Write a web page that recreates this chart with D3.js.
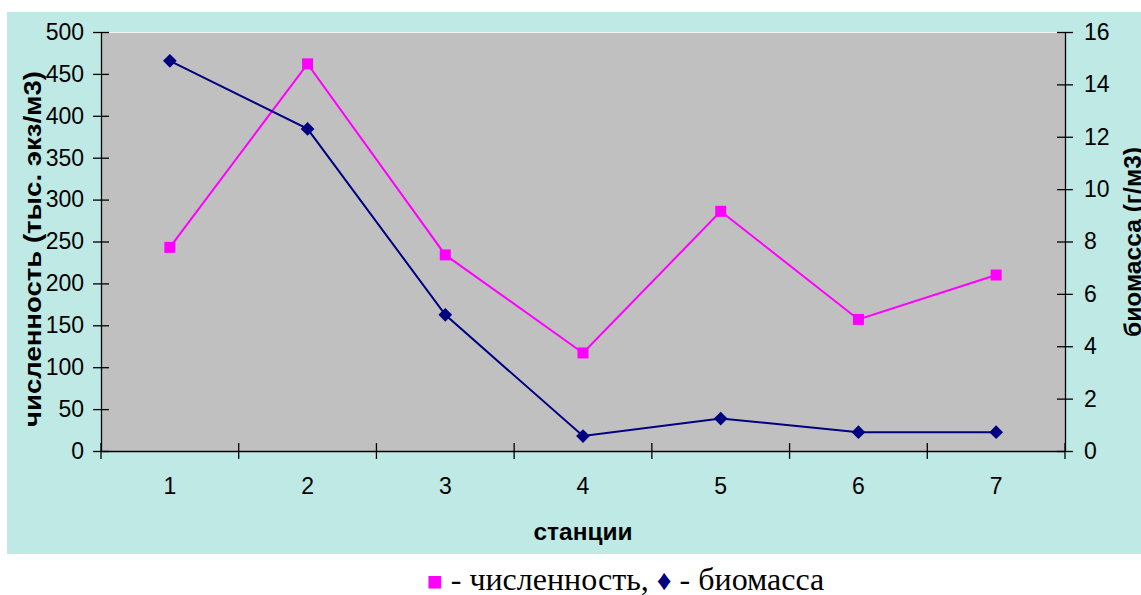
<!DOCTYPE html>
<html>
<head>
<meta charset="utf-8">
<script src="https://cdn.jsdelivr.net/npm/d3@7"></script>
<style>
  html, body { margin: 0; padding: 0; background: #ffffff; }
  svg { display: block; }
</style>
</head>
<body>
<div id="chart"></div>
<script>
// Stations along the x axis
const stations = ["1", "2", "3", "4", "5", "6", "7"];
// Abundance, thousand ind./m3 (left axis)
const abundance = [243, 462, 234, 117, 286, 157, 210];
// Biomass, g/m3 (right axis)
const biomass = [14.9, 12.3, 5.2, 0.57, 1.24, 0.72, 0.72];
// Axis ticks
const leftTicks = [0, 50, 100, 150, 200, 250, 300, 350, 400, 450, 500];
const rightTicks = [0, 2, 4, 6, 8, 10, 12, 14, 16];

const W = 1141, H = 595;
const plot = { left: 101, right: 1065, top: 32, bottom: 451 };

const svg = d3.select("#chart").append("svg")
  .attr("width", W).attr("height", H);

// chart area background
svg.append("rect")
  .attr("x", 7).attr("y", 12).attr("width", W - 7).attr("height", 542)
  .attr("fill", "#bfe9e4");

// plot area
svg.append("rect")
  .attr("x", plot.left).attr("y", plot.top)
  .attr("width", plot.right - plot.left).attr("height", plot.bottom - plot.top)
  .attr("fill", "#c0c0c0");
svg.append("line")
  .attr("x1", plot.left).attr("x2", plot.right)
  .attr("y1", plot.top + 0.5).attr("y2", plot.top + 0.5)
  .attr("stroke", "#f4f4f4").attr("stroke-width", 1);

const x = d3.scaleBand().domain(stations).range([plot.left, plot.right]).padding(0);
const yL = d3.scaleLinear().domain([0, 500]).range([plot.bottom, plot.top]);
const yR = d3.scaleLinear().domain([0, 16]).range([plot.bottom, plot.top]);
const xc = d => x(d) + x.bandwidth() / 2;

const sans = "'Liberation Sans', Arial, sans-serif";

// left axis
const gL = svg.append("g").attr("transform", `translate(${plot.left},0)`)
  .call(d3.axisLeft(yL).tickValues(leftTicks).tickSizeInner(8).tickSizeOuter(0).tickPadding(9));
gL.selectAll(".tick line").attr("x2", 8).attr("x1", -8);
// right axis
const gR = svg.append("g").attr("transform", `translate(${plot.right},0)`)
  .call(d3.axisRight(yR).tickValues(rightTicks).tickSizeInner(8).tickSizeOuter(0).tickPadding(11));
gR.selectAll(".tick line").attr("x1", -8).attr("x2", 8);
// bottom axis, ticks at category boundaries
const gB = svg.append("g").attr("transform", `translate(0,${plot.bottom})`)
  .call(d3.axisBottom(x).tickSize(0).tickPadding(27));
gB.selectAll(".tick text").attr("dy", "0.71em");
const bounds = stations.map(s => x(s)).concat([plot.right]);
gB.selectAll(".bound").data(bounds).enter().append("line")
  .attr("x1", d => d).attr("x2", d => d)
  .attr("y1", -8).attr("y2", 8)
  .attr("stroke", "#000").attr("stroke-width", 1.3);

[gL, gR, gB].forEach(g => {
  g.selectAll(".domain").attr("stroke", "#000").attr("stroke-width", 1.3);
  g.selectAll(".tick line").attr("stroke", "#000").attr("stroke-width", 1.3);
  g.selectAll(".tick text").attr("font-family", sans).attr("font-size", 23).attr("fill", "#000");
});

// axis titles
svg.append("text")
  .attr("transform", "translate(41,249) rotate(-90)")
  .attr("text-anchor", "middle")
  .attr("font-family", sans).attr("font-weight", "bold").attr("font-size", 23)
  .attr("textLength", 356).attr("lengthAdjust", "spacingAndGlyphs")
  .text("численность (тыс. экз/м3)");
svg.append("text")
  .attr("transform", "translate(1141,242) rotate(-90)")
  .attr("text-anchor", "middle")
  .attr("font-family", sans).attr("font-weight", "bold").attr("font-size", 24)
  .attr("textLength", 190).attr("lengthAdjust", "spacingAndGlyphs")
  .text("биомасса (г/м3)");
svg.append("text")
  .attr("x", 583).attr("y", 540)
  .attr("text-anchor", "middle")
  .attr("font-family", sans).attr("font-weight", "bold").attr("font-size", 24)
  .attr("textLength", 99).attr("lengthAdjust", "spacingAndGlyphs")
  .text("станции");

// abundance series
const lineA = d3.line().x((d, i) => xc(stations[i])).y(d => yL(d));
svg.append("path").datum(abundance)
  .attr("d", lineA).attr("fill", "none")
  .attr("stroke", "#ff00ff").attr("stroke-width", 2);
svg.selectAll(".mA").data(abundance).enter().append("rect")
  .attr("x", (d, i) => xc(stations[i]) - 5.5)
  .attr("y", d => yL(d) - 5.5)
  .attr("width", 11).attr("height", 11)
  .attr("fill", "#ff00ff");

// biomass series
const lineB = d3.line().x((d, i) => xc(stations[i])).y(d => yR(d));
svg.append("path").datum(biomass)
  .attr("d", lineB).attr("fill", "none")
  .attr("stroke", "#000080").attr("stroke-width", 2);
const diamond = d3.symbol().type(d3.symbolDiamond2).size(120);
svg.selectAll(".mB").data(biomass).enter().append("path")
  .attr("d", diamond)
  .attr("transform", (d, i) => `translate(${xc(stations[i])},${yR(d)})`)
  .attr("fill", "#000080");

// legend line below the chart
const legend = svg.append("text")
  .attr("x", 427).attr("y", 590)
  .attr("font-family", "'Liberation Serif', 'Times New Roman', serif")
  .attr("font-size", 32).attr("fill", "#000");
legend.append("tspan").attr("fill", "#ff00ff").attr("font-size", 26).text("■");
legend.append("tspan").text(" - численность, ");
legend.append("tspan").attr("fill", "#000080").attr("font-size", 29).text("♦");
legend.append("tspan").text(" - биомасса");
</script>
</body>
</html>
